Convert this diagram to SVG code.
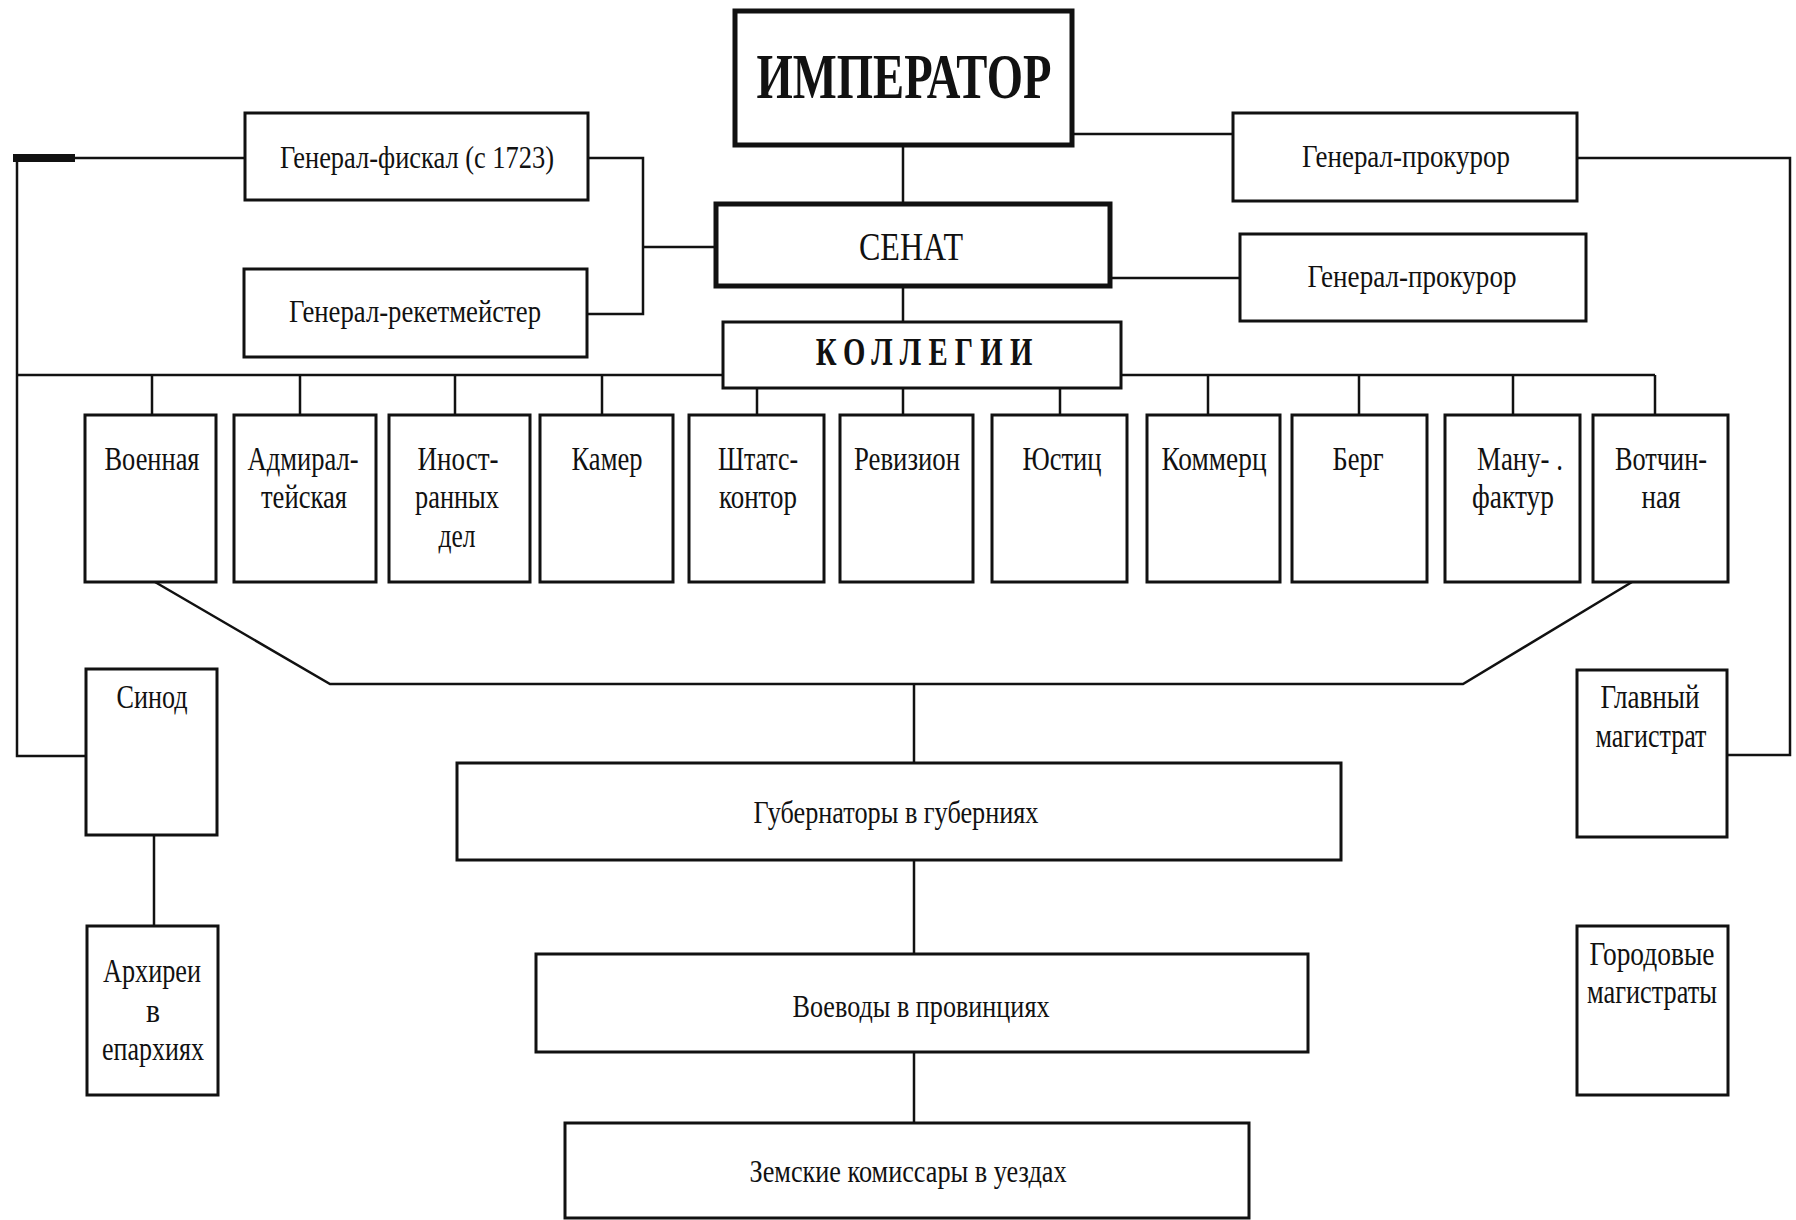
<svg xmlns="http://www.w3.org/2000/svg" width="1796" height="1220" viewBox="0 0 1796 1220">
<style>
.b{fill:#fff;stroke:#111;stroke-width:3}
.bt{fill:#fff;stroke:#111;stroke-width:5}
.c{fill:none;stroke:#111;stroke-width:2.5}
text{font-family:"Liberation Serif","Times New Roman",serif;fill:#111;text-anchor:middle}
.t{font-size:32px}
.k{font-size:34px}
</style>
<rect width="1796" height="1220" fill="#fff"/>
<g id="connectors">
<path class="c" d="M903 145V204M903 286V322"/>
<path class="c" d="M588 158H643V314H587M643 247H716"/>
<path class="c" d="M245 158H17V756H86"/>
<rect x="13" y="154" width="62" height="8" fill="#111"/>
<path class="c" d="M1072 134H1233"/>
<path class="c" d="M1110 278H1240"/>
<path class="c" d="M1577 158H1790V755H1727"/>
<path class="c" d="M17 375H723M1121 375H1655"/>
<path class="c" d="M152 375V415M300 375V415M455 375V415M602 375V415M757 388V415M903 388V415M1060 388V415M1208 375V415M1359 375V415M1513 375V415M1655 375V415"/>
<path class="c" d="M155 582L330 684H1463L1632 582"/>
<path class="c" d="M914 684V763M914 860V954M914 1052V1123"/>
<path class="c" d="M154 835V926"/>
</g>
<g id="emperor"><rect class="bt" x="735" y="11" width="337" height="134"/><text x="904" y="98" font-size="64" font-weight="bold" textLength="295" lengthAdjust="spacingAndGlyphs">ИМПЕРАТОР</text></g>
<g id="senate"><rect class="bt" x="716" y="204" width="394" height="82"/><text x="911" y="260" font-size="40" textLength="104" lengthAdjust="spacingAndGlyphs">СЕНАТ</text></g>
<g id="kollegii"><rect class="b" x="723" y="322" width="398" height="66"/><g transform="translate(924 0) scale(0.72 1)"><text x="0" y="365" font-size="40" font-weight="bold" textLength="301" lengthAdjust="spacing">КОЛЛЕГИИ</text></g></g>
<g id="fiscal"><rect class="b" x="245" y="113" width="343" height="87"/><text class="t" x="417" y="168" textLength="274" lengthAdjust="spacingAndGlyphs">Генерал-фискал (с 1723)</text></g>
<g id="reket"><rect class="b" x="244" y="269" width="343" height="88"/><text class="t" x="415" y="322" textLength="252" lengthAdjust="spacingAndGlyphs">Генерал-рекетмейстер</text></g>
<g id="prokuror1"><rect class="b" x="1233" y="113" width="344" height="88"/><text class="t" x="1406" y="167" textLength="208" lengthAdjust="spacingAndGlyphs">Генерал-прокурор</text></g>
<g id="prokuror2"><rect class="b" x="1240" y="234" width="346" height="87"/><text class="t" x="1412" y="287" textLength="209" lengthAdjust="spacingAndGlyphs">Генерал-прокурор</text></g>
<g id="voennaya"><rect class="b" x="85" y="415" width="131" height="167"/><text class="k" x="152" y="470" textLength="95" lengthAdjust="spacingAndGlyphs">Военная</text></g>
<g id="admiral"><rect class="b" x="234" y="415" width="142" height="167"/><text class="k" x="303" y="470" textLength="111" lengthAdjust="spacingAndGlyphs">Адмирал-</text><text class="k" x="304" y="508" textLength="86" lengthAdjust="spacingAndGlyphs">тейская</text></g>
<g id="inostr"><rect class="b" x="389" y="415" width="141" height="167"/><text class="k" x="458" y="470" textLength="81" lengthAdjust="spacingAndGlyphs">Иност-</text><text class="k" x="457" y="508" textLength="84" lengthAdjust="spacingAndGlyphs">ранных</text><text class="k" x="457" y="547" textLength="37" lengthAdjust="spacingAndGlyphs">дел</text></g>
<g id="kamer"><rect class="b" x="540" y="415" width="133" height="167"/><text class="k" x="607" y="470" textLength="71" lengthAdjust="spacingAndGlyphs">Камер</text></g>
<g id="shtats"><rect class="b" x="689" y="415" width="135" height="167"/><text class="k" x="758" y="470" textLength="80" lengthAdjust="spacingAndGlyphs">Штатс-</text><text class="k" x="758" y="508" textLength="78" lengthAdjust="spacingAndGlyphs">контор</text></g>
<g id="reviz"><rect class="b" x="840" y="415" width="133" height="167"/><text class="k" x="907" y="470" textLength="106" lengthAdjust="spacingAndGlyphs">Ревизион</text></g>
<g id="yustic"><rect class="b" x="992" y="415" width="135" height="167"/><text class="k" x="1062" y="470" textLength="79" lengthAdjust="spacingAndGlyphs">Юстиц</text></g>
<g id="kommerc"><rect class="b" x="1147" y="415" width="133" height="167"/><text class="k" x="1214" y="470" textLength="105" lengthAdjust="spacingAndGlyphs">Коммерц</text></g>
<g id="berg"><rect class="b" x="1292" y="415" width="135" height="167"/><text class="k" x="1358" y="470" textLength="51" lengthAdjust="spacingAndGlyphs">Берг</text></g>
<g id="manuf"><rect class="b" x="1445" y="415" width="135" height="167"/><text class="k" x="1520" y="470" textLength="86" lengthAdjust="spacingAndGlyphs">Ману- .</text><text class="k" x="1513" y="508" textLength="82" lengthAdjust="spacingAndGlyphs">фактур</text></g>
<g id="votchin"><rect class="b" x="1593" y="415" width="135" height="167"/><text class="k" x="1661" y="470" textLength="92" lengthAdjust="spacingAndGlyphs">Вотчин-</text><text class="k" x="1661" y="508" textLength="39" lengthAdjust="spacingAndGlyphs">ная</text></g>
<g id="sinod"><rect class="b" x="86" y="669" width="131" height="166"/><text class="k" x="152" y="708" textLength="71" lengthAdjust="spacingAndGlyphs">Синод</text></g>
<g id="arhierei"><rect class="b" x="87" y="926" width="131" height="169"/><text class="k" x="152" y="982" textLength="98" lengthAdjust="spacingAndGlyphs">Архиреи</text><text class="k" x="153" y="1022" textLength="14" lengthAdjust="spacingAndGlyphs">в</text><text class="k" x="153" y="1060" textLength="102" lengthAdjust="spacingAndGlyphs">епархиях</text></g>
<g id="glavny"><rect class="b" x="1577" y="670" width="150" height="167"/><text class="k" x="1650" y="708" textLength="99" lengthAdjust="spacingAndGlyphs">Главный</text><text class="k" x="1651" y="747" textLength="111" lengthAdjust="spacingAndGlyphs">магистрат</text></g>
<g id="gorodovye"><rect class="b" x="1577" y="926" width="151" height="169"/><text class="k" x="1652" y="965" textLength="125" lengthAdjust="spacingAndGlyphs">Городовые</text><text class="k" x="1652" y="1003" textLength="130" lengthAdjust="spacingAndGlyphs">магистраты</text></g>
<g id="gubernatory"><rect class="b" x="457" y="763" width="884" height="97"/><text class="t" x="896" y="823" textLength="285" lengthAdjust="spacingAndGlyphs">Губернаторы в губерниях</text></g>
<g id="voevody"><rect class="b" x="536" y="954" width="772" height="98"/><text class="t" x="921" y="1017" textLength="257" lengthAdjust="spacingAndGlyphs">Воеводы в провинциях</text></g>
<g id="zemskie"><rect class="b" x="565" y="1123" width="684" height="95"/><text class="t" x="908" y="1182" textLength="317" lengthAdjust="spacingAndGlyphs">Земские комиссары в уездах</text></g>
</svg>
